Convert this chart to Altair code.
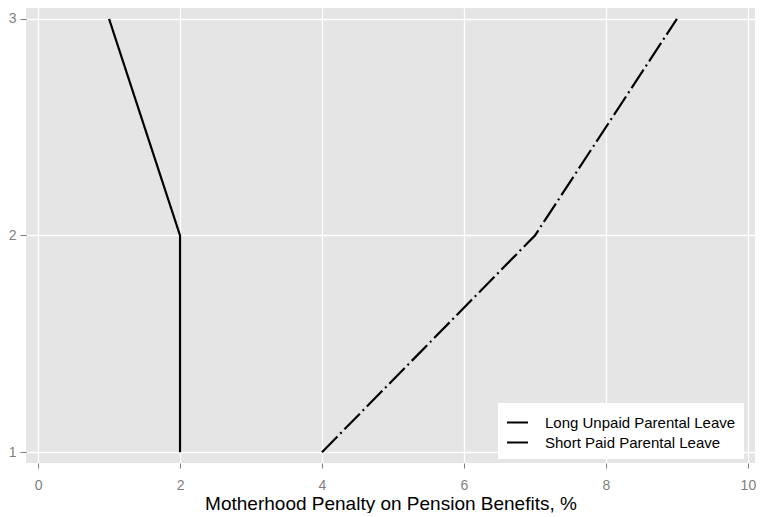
import altair as alt
import pandas as pd

series_long = "Long Unpaid Parental Leave"
series_short = "Short Paid Parental Leave"

long_x = [4, 7, 9]
long_y = [1, 2, 3]
short_x = [2, 2, 1]
short_y = [1, 2, 3]

x_ticks = [0, 2, 4, 6, 8, 10]
y_ticks = [1.0, 2.0, 3.0]

rows = []
for xv, yv in zip(long_x, long_y):
    rows.append({"series": series_long, "x": xv, "y": yv})
for xv, yv in zip(short_x, short_y):
    rows.append({"series": series_short, "x": xv, "y": yv})
df = pd.DataFrame(rows)

FONT = "Liberation Sans"

chart = alt.Chart(df).mark_line(strokeWidth=2.2, color="black", strokeCap="butt").encode(
    x=alt.X("x:Q", scale=alt.Scale(domain=[-0.17, 10.1], nice=False, zero=False),
            axis=alt.Axis(values=x_ticks, title="Motherhood Penalty on Pension Benefits, %",
                          format="d", labelOverlap=False)),
    y=alt.Y("y:Q", scale=alt.Scale(domain=[0.95, 3.05], nice=False, zero=False),
            axis=alt.Axis(values=y_ticks, title=None, format="d", tickCount=10,
                          tickMinStep=0.1, labelOverlap=False)),
    order=alt.Order("y:Q"),
    strokeDash=alt.StrokeDash(
        "series:N",
        scale=alt.Scale(domain=[series_long, series_short], range=[[22, 4, 2, 4], [1, 0]]),
        legend=alt.Legend(title=None, orient="none", legendX=472, legendY=395,
                          fillColor="white", padding=8, symbolType="stroke",
                          symbolSize=441, symbolStrokeWidth=2, symbolStrokeColor="black",
                          labelFontSize=15, labelFont=FONT, labelColor="black",
                          labelOffset=16, rowPadding=0, labelLimit=400,
                          labelExpr="datum.label + '\u00a0\u00a0\u00a0'"),
    ),
).properties(
    width=729, height=455,
    padding={"top": 0, "left": 0, "right": 0, "bottom": 0},
    background="white",
).configure_view(
    fill="#e5e5e5", stroke=None
).configure_axis(
    domain=False, grid=True, gridColor="white", gridWidth=1.3,
    tickColor="#7f7f7f", tickSize=5, tickWidth=1,
    labelColor="#7f7f7f", labelFont=FONT, labelFontSize=14,
    titleFont=FONT, titleFontSize=19, titleFontWeight="normal", titleColor="black",
).configure_axisX(
    labelPadding=10, titlePadding=2
).configure_axisY(
    labelPadding=4, tickSize=6
)

chart.save("out.html", embed_options={"renderer": "svg", "actions": False})
